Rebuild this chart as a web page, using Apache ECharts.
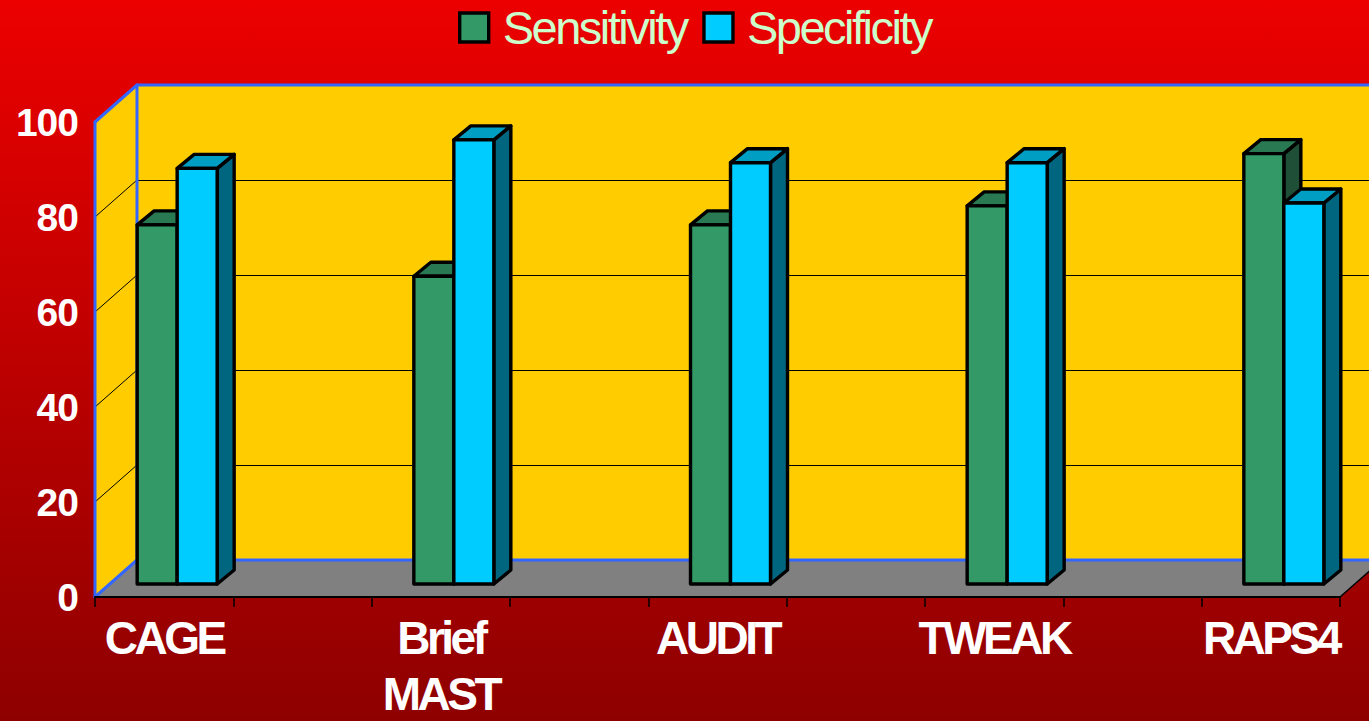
<!DOCTYPE html>
<html>
<head>
<meta charset="utf-8">
<style>
html,body{margin:0;padding:0;width:1369px;height:721px;overflow:hidden;background:#a00000}
#c{width:1369px;height:721px}
#c text[style*="46px"]{letter-spacing:-3.5px}
#c text[style*="39px"]{letter-spacing:-1px}
#c text[style*="47px"]{letter-spacing:-2.5px}
</style>
<script src="https://cdn.jsdelivr.net/npm/echarts@6/dist/echarts.min.js"></script>
</head>
<body>
<div id="c"></div>
<script>
const categories = ['CAGE','','Brief\nMAST','','AUDIT','','TWEAK','','RAPS4'];
const sensitivity = [75.6,null,64.8,null,75.6,null,79.6,null,90.6];
const specificity = [87.5,null,93.5,null,88.7,null,88.7,null,80.2];
const yTicks = [20,40,60,80];

const FONT = '"Liberation Sans", Arial, sans-serif';
const WALL_DX = 42, WALL_DY = -37;      // depth of the chart box
const BAR_DX = 17, BAR_DY = -14;        // depth of a bar
const BAR_BASE_DX = 13, BAR_BASE_DY = -13; // shift of the bar row into the box
const BAR_W = 40;
const BLUE = '#3366FF';

function toPoints(values){
  return values.map((v,i)=>v==null?null:[i,v]).filter(Boolean);
}
function poly(points, fill, stroke, width){
  return {type:'polygon', shape:{points}, style:{fill, stroke:stroke||'none', lineWidth:width||0, lineJoin:'round'}};
}
function line(x1,y1,x2,y2,stroke,width){
  return {type:'line', shape:{x1,y1,x2,y2}, style:{stroke, lineWidth:width, lineCap:'round'}};
}
function boxRender(params, api){
  const cs = params.coordSys;
  const x = cs.x, y = cs.y, w = cs.width, h = cs.height;
  const b = y + h;
  const r = x + w;
  const backL = x + WALL_DX, backR = r + WALL_DX, backT = y + WALL_DY, backB = b + WALL_DY;
  return {type:'group', children:[
    poly([[backL,backT],[backR,backT],[backR,backB],[backL,backB]], '#FFCC00'),
    poly([[x,y],[backL,backT],[backL,backB],[x,b]], '#FFCC00'),
    poly([[x,b],[backL,backB],[backR,backB],[r,b]], '#808080'),
    line(r,b,backR,backB,'#000',1.5)
  ]};
}
function edgeRender(params, api){
  const cs = params.coordSys;
  const x = cs.x, y = cs.y, b = y + cs.height, r = x + cs.width;
  const backL = x + WALL_DX, backR = r + WALL_DX, backT = y + WALL_DY, backB = b + WALL_DY;
  return {type:'group', children:[
    line(x,b,x,y,BLUE,3),
    line(x,y,backL,backT,BLUE,3),
    line(backL,backT,backR,backT,BLUE,3),
    line(backL,backT,backL,backB,BLUE,3),
    line(x,b,backL,backB,BLUE,3),
    line(backL,backB,backR,backB,BLUE,3)
  ]};
}
function gridRender(params, api){
  const cs = params.coordSys;
  const x = cs.x, r = x + cs.width;
  const yy = Math.round(api.coord([0, api.value(0)])[1]);
  return {type:'group', children:[
    line(x,yy,x+WALL_DX,yy+WALL_DY,'#000',1),
    line(x+WALL_DX,yy+WALL_DY+0.5,r+WALL_DX,yy+WALL_DY+0.5,'#000',1)
  ]};
}
function barRender(index, front, top, side){
  return function(params, api){
    const p = api.coord([api.value(0), api.value(1)]);
    const p0 = api.coord([api.value(0), 0]);
    const xl = p[0] + BAR_BASE_DX + (index-1)*BAR_W;
    const xr = xl + BAR_W;
    const yt = p[1] + BAR_BASE_DY;
    const yb = p0[1] + BAR_BASE_DY;
    const k = '#000';
    return {type:'group', children:[
      poly([[xr,yt],[xr+BAR_DX,yt+BAR_DY],[xr+BAR_DX,yb+BAR_DY],[xr,yb]], side, k, 3.4),
      poly([[xl,yt],[xl+BAR_DX,yt+BAR_DY],[xr+BAR_DX,yt+BAR_DY],[xr,yt]], top, k, 3.4),
      poly([[xl,yt],[xr,yt],[xr,yb],[xl,yb]], front, k, 3.4)
    ]};
  };
}

const chart = echarts.init(document.getElementById('c'), null, {renderer:'svg', width:1369, height:721});
chart.setOption({
  animation:false,
  backgroundColor:{type:'linear',x:0,y:0,x2:0,y2:1,colorStops:[
    {offset:0,color:'#EC0000'},{offset:1,color:'#8E0000'}
  ]},
  legend:{
    left:453, top:-1,
    itemWidth:29, itemHeight:29, itemGap:-12,
    icon:'rect',
    selectedMode:false,
    textStyle:{color:'#CCFFCC', fontSize:47, fontFamily:FONT, padding:[0,0,0,9]},
    data:[
      {name:'Sensitivity', itemStyle:{color:'#339966',borderColor:'#000',borderWidth:3.4}},
      {name:'Specificity', itemStyle:{color:'#00CCFF',borderColor:'#000',borderWidth:3.4}}
    ]
  },
  grid:{left:95, right:29, top:122, bottom:124, containLabel:false, outerBoundsMode:'none'},
  xAxis:{
    type:'category', data:categories, z:5,
    boundaryGap:true,
    axisLine:{show:true,lineStyle:{color:'#000',width:2}},
    axisTick:{show:true,alignWithLabel:false,interval:0,length:10,lineStyle:{color:'#000',width:1.5}},
    axisLabel:{show:true,interval:0,color:'#fff',fontFamily:FONT,fontWeight:'bold',fontSize:46,margin:13,lineHeight:56,hideOverlap:false},
    splitLine:{show:false}
  },
  yAxis:{
    type:'value', min:0, max:100, interval:20,
    axisLine:{show:false}, axisTick:{show:false}, splitLine:{show:false},
    axisLabel:{color:'#fff',fontFamily:FONT,fontWeight:'bold',fontSize:39,margin:17}
  },
  series:[
    {type:'custom', silent:true, clip:false, z:1, renderItem:boxRender, data:[[0,0]], encode:{x:0,y:1}},
    {type:'custom', silent:true, clip:false, z:1, renderItem:gridRender, data:yTicks.map(v=>[v]), encode:{y:0}},
    {type:'custom', silent:true, clip:false, z:1, renderItem:edgeRender, data:[[0,0]], encode:{x:0,y:1}},
    {name:'Sensitivity', type:'custom', clip:false, z:2, renderItem:barRender(0,'#339966','#297A52','#1F5037'),
      itemStyle:{color:'#339966'}, data:toPoints(sensitivity), encode:{x:0,y:1}},
    {name:'Specificity', type:'custom', clip:false, z:2, renderItem:barRender(1,'#00CCFF','#009EC2','#006680'),
      itemStyle:{color:'#00CCFF'}, data:toPoints(specificity), encode:{x:0,y:1}}
  ]
});
</script>
</body>
</html>
